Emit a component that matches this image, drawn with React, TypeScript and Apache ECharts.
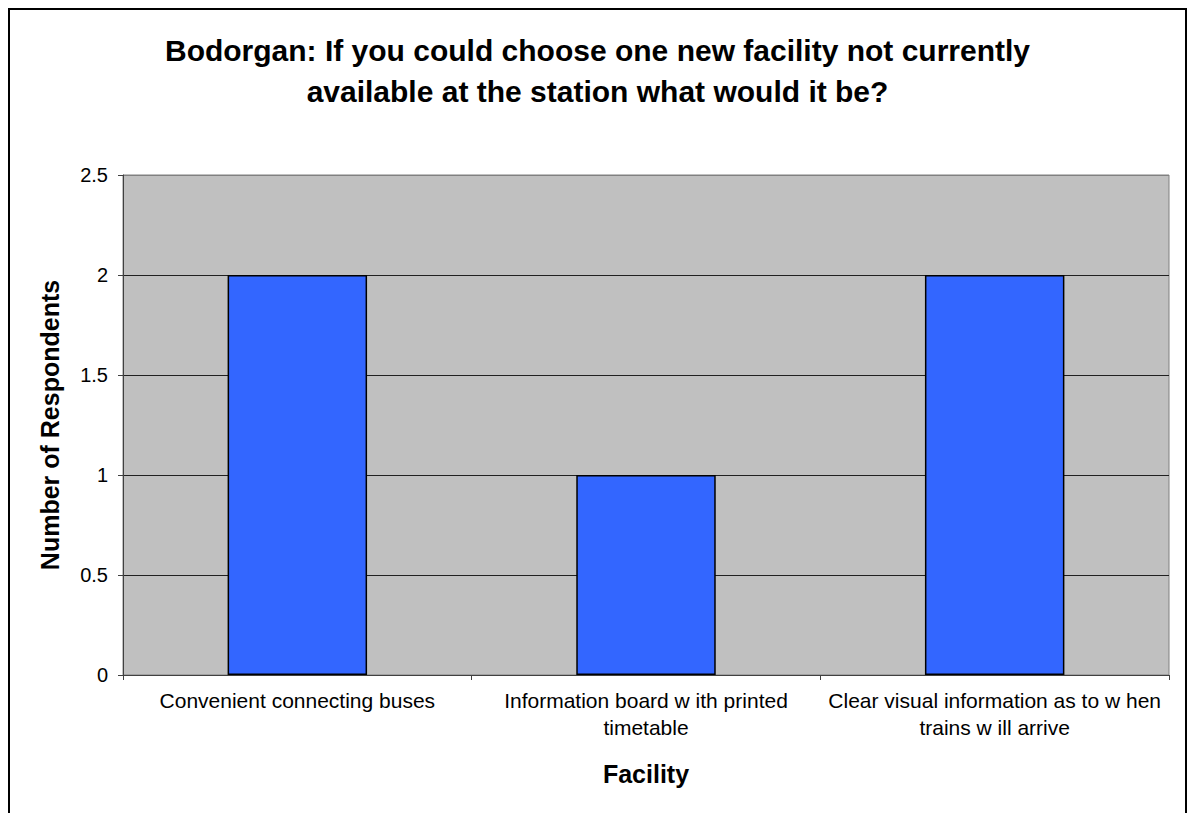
import React, { useEffect, useRef } from "react";
import * as echarts from "echarts";

const titleText =
  "Bodorgan: If you could choose one new facility not currently\navailable at the station what would it be?";
const categories = [
  "Convenient connecting buses",
  "Information board w ith printed\ntimetable",
  "Clear visual information as to w hen\ntrains w ill arrive",
];
const respondents = [2, 1, 2];
const yName = "Number of Respondents";
const xName = "Facility";

const FONT = "'Liberation Sans', Arial, sans-serif";

export default function App() {
  const ref = useRef<HTMLDivElement>(null);
  useEffect(() => {
    if (!ref.current) return;
    const chart = echarts.init(ref.current, null, { renderer: "svg" });
    chart.setOption({
      animation: false,
      textStyle: { fontFamily: FONT, color: "#000" },
      title: {
        text: titleText,
        left: "center",
        top: 20,
        padding: 0,
        textStyle: {
          fontFamily: FONT,
          fontSize: 30,
          fontWeight: "bold",
          lineHeight: 41,
          color: "#000",
        },
      },
      grid: {
        left: 113,
        top: 165,
        width: 1046,
        height: 500,
        show: true,
        backgroundColor: "#c0c0c0",
        borderColor: "#808080",
        borderWidth: 1,
      },
      xAxis: {
        type: "category",
        data: categories,
        name: xName,
        nameLocation: "middle",
        nameGap: 86,
        nameTextStyle: {
          fontFamily: FONT,
          fontSize: 25,
          fontWeight: "bold",
          color: "#000",
          lineHeight: 25,
        },
        axisLine: { show: true, lineStyle: { color: "#404040", width: 1 } },
        axisTick: { show: true, length: 5, lineStyle: { color: "#404040" } },
        axisLabel: {
          fontFamily: FONT,
          fontSize: 21,
          color: "#000",
          lineHeight: 27,
          margin: 12,
          interval: 0,
          align: "center",
        },
      },
      yAxis: {
        type: "value",
        min: 0,
        max: 2.5,
        interval: 0.5,
        name: yName,
        nameLocation: "middle",
        nameGap: 61,
        nameTextStyle: {
          fontFamily: FONT,
          fontSize: 25,
          fontWeight: "bold",
          color: "#000",
        },
        axisLine: { show: true, lineStyle: { color: "#404040", width: 1 } },
        axisTick: { show: true, length: 5, lineStyle: { color: "#404040" } },
        axisLabel: { fontFamily: FONT, fontSize: 20, color: "#000", margin: 15 },
        splitLine: {
          show: true,
          lineStyle: {
            color: ["#202020", "#202020", "#202020", "#202020", "#202020", "#808080"],
            width: 1,
          },
        },
      },
      series: [
        {
          type: "bar",
          data: respondents,
          barWidth: "40%",
          itemStyle: { color: "#3366ff", borderColor: "#000", borderWidth: 1.5 },
        },
      ],
    });
    return () => chart.dispose();
  }, []);
  return (
    <div
      style={{
        position: "absolute",
        left: 8,
        top: 8,
        width: 1175,
        height: 803,
        borderTop: "2px solid #000",
        borderLeft: "2px solid #000",
        borderRight: "2px solid #000",
        background: "#fff",
        overflow: "hidden",
      }}
    >
      <div ref={ref} style={{ width: 1175, height: 803 }} />
    </div>
  );
}
